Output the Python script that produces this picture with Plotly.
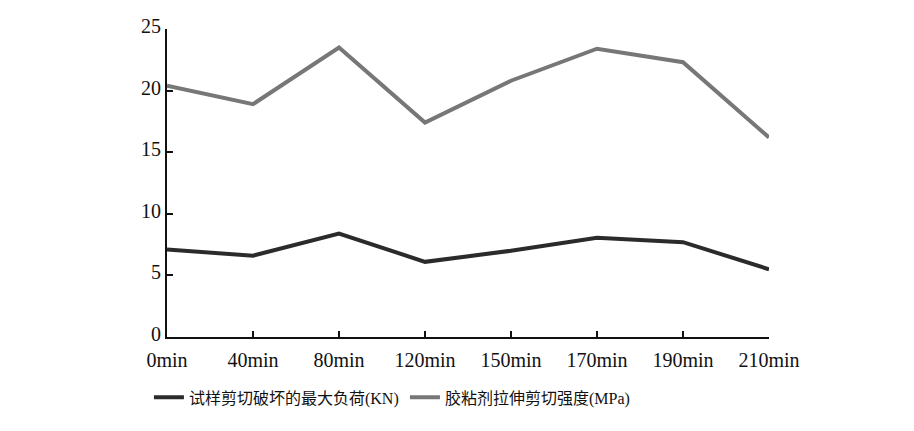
import plotly.graph_objects as go

categories = ["0min", "40min", "80min", "120min", "150min", "170min", "190min", "210min"]
max_load_kn = [7.1, 6.6, 8.4, 6.1, 7.0, 8.05, 7.7, 5.5]
shear_strength_mpa = [20.4, 18.9, 23.5, 17.4, 20.8, 23.4, 22.3, 16.2]
y_ticks = [0, 5, 10, 15, 20, 25]

serif = "Liberation Serif, Times New Roman, serif"
cjk = "Liberation Serif, Noto Sans CJK SC, serif"

fig = go.Figure()
fig.add_trace(go.Scatter(x=categories, y=max_load_kn, mode="lines",
                         name="试样剪切破坏的最大负荷(KN)",
                         line=dict(color="#2b2b2b", width=4)))
fig.add_trace(go.Scatter(x=categories, y=shear_strength_mpa, mode="lines",
                         name="胶粘剂拉伸剪切强度(MPa)",
                         line=dict(color="#777777", width=4)))

fig.update_layout(
    width=914, height=431,
    margin=dict(l=159, r=153, t=21, b=102),
    paper_bgcolor="white", plot_bgcolor="white",
    font=dict(family=serif, size=20, color="#111111"),
    showlegend=True,
    legend=dict(orientation="h", x=-0.03, y=-0.141, xanchor="left", yanchor="top",
                font=dict(family=cjk, size=16, color="#111111"),
                itemwidth=30, entrywidth=211, entrywidthmode="pixels",
                bgcolor="rgba(0,0,0,0)"),
)
fig.update_xaxes(
    type="category", range=[0, len(categories) - 1], automargin=False,
    showline=True, linecolor="#111111", linewidth=2,
    ticks="inside", ticklen=6, tickwidth=2, tickcolor="#111111",
    showgrid=False, zeroline=False, ticklabelstandoff=4,
    tickfont=dict(family=serif, size=20),
)
fig.update_yaxes(
    range=[0, 25], tickvals=y_ticks, automargin=False,
    showline=True, linecolor="#111111", linewidth=2,
    ticks="inside", ticklen=6, tickwidth=2, tickcolor="#111111",
    showgrid=False, zeroline=False, ticklabelshift=-3,
    tickfont=dict(family=serif, size=20),
)

fig.write_html("out.html")
